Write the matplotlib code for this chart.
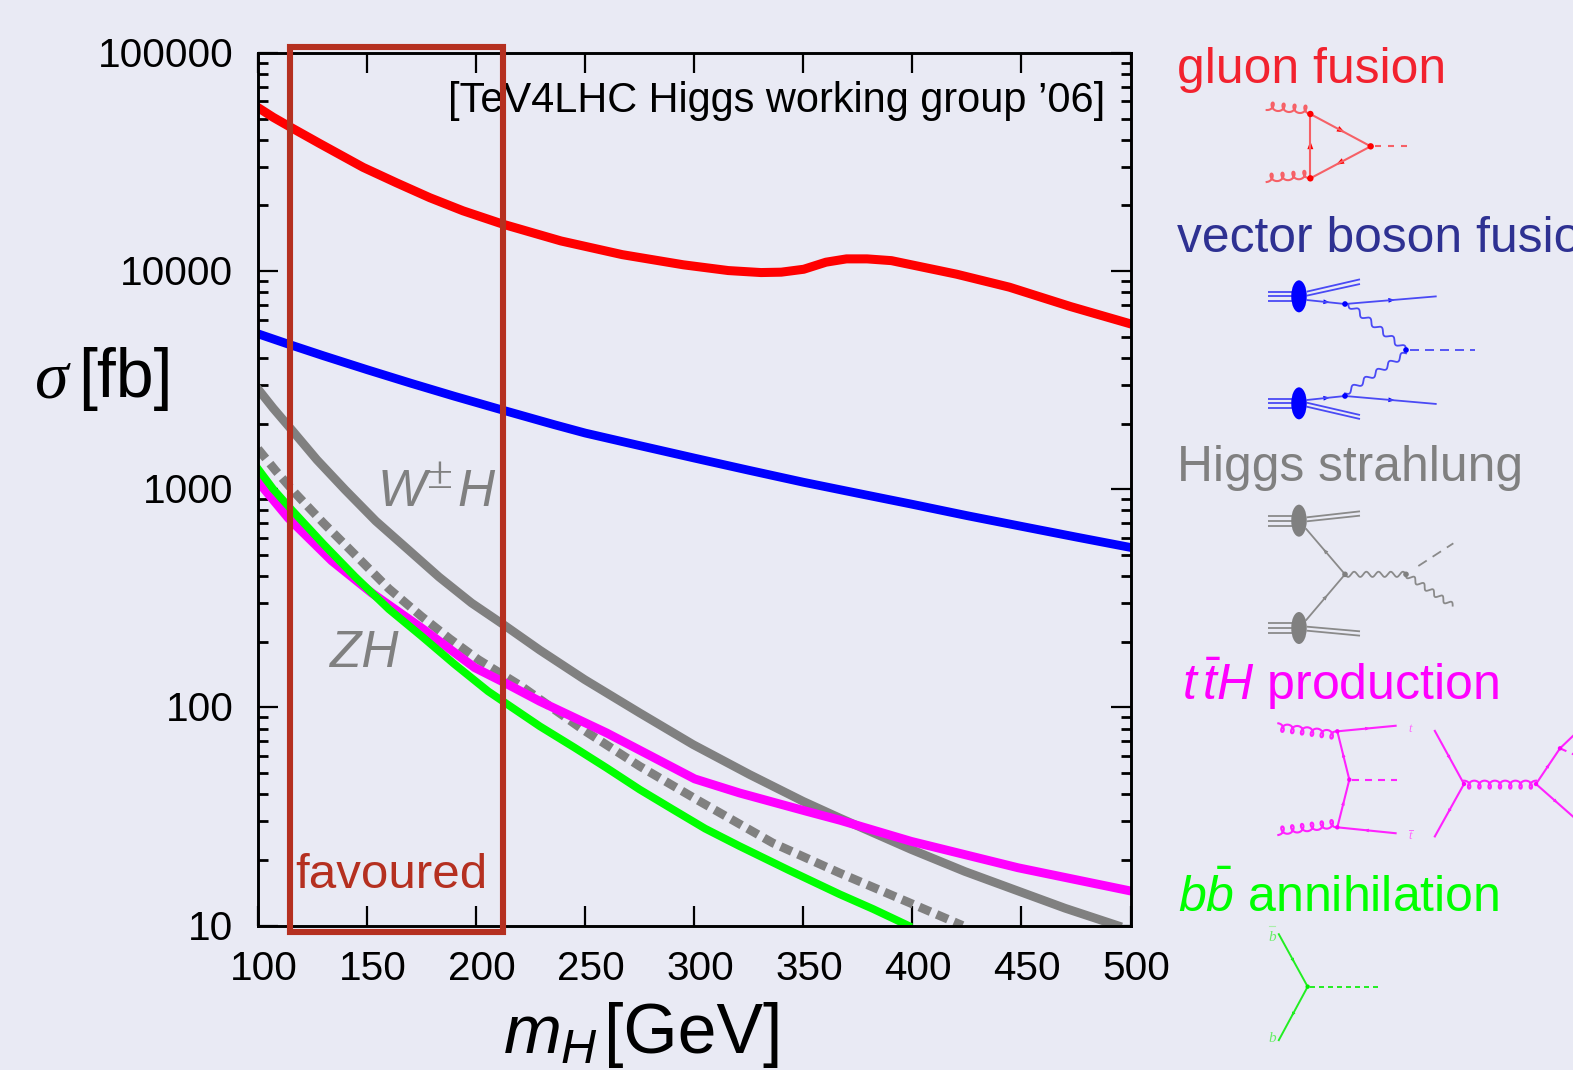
import numpy as np
import matplotlib
matplotlib.use("Agg")
import matplotlib.pyplot as plt
from matplotlib.patches import Ellipse, Polygon, Rectangle
from matplotlib.ticker import LogLocator, NullFormatter
from matplotlib.transforms import ScaledTranslation

plt.rcParams.update({
    'font.family': 'Liberation Sans',
    'mathtext.fontset': 'custom',
    'mathtext.rm': 'Liberation Sans',
    'mathtext.it': 'Liberation Sans:italic',
    'mathtext.bf': 'Liberation Sans:bold',
})

BG = '#E9EAF4'
W, H = 1573, 1070

gg_x = [100, 107, 115.4, 128.4, 148.2, 163.5, 178.8, 194, 212.4, 238.9, 267, 295, 315.6, 330.6, 339.9, 350.2, 360.4, 369.8, 379.2, 390.4, 420.3, 444.5, 472.5, 500]
gg_y = [56200, 50700, 45400, 38400, 29900, 25400, 21700, 18900, 16400, 13750, 11900, 10690, 10060, 9850, 9890, 10200, 10990, 11380, 11380, 11170, 9680, 8440, 6880, 5730]
vbf_x = [100, 115, 130, 150, 170, 190, 211.7, 236, 250, 275, 300, 325, 350, 375, 400, 425, 450, 475, 500]
vbf_y = [5160, 4587, 4092, 3533, 3064, 2670, 2313, 1975, 1810, 1585, 1390, 1222, 1077, 958, 853, 757, 676, 604, 541]
wh_x = [100, 107, 115.4, 127, 139.9, 154, 168.9, 183, 197.9, 213.2, 229.2, 249.8, 275, 299.5, 325.4, 349.9, 366.7, 399.5, 424, 448.4, 470, 494]
wh_y = [2880, 2350, 1874, 1365, 995, 715, 528, 396, 301, 237, 183, 134, 94.3, 67.5, 49.2, 37.1, 31.1, 22.3, 17.7, 14.4, 12, 10]
zh_x = [100, 108, 117, 130, 146, 160, 175, 188, 201, 220.8, 249, 275, 302.5, 336, 366.7, 398, 423]
zh_y = [1530, 1220, 961, 700, 484, 350, 261, 206, 165.6, 124.9, 79, 53.7, 37.1, 23.9, 17.4, 12.8, 10]
tth_x = [100, 113.9, 133.8, 152.1, 175, 199.4, 213.2, 229.2, 259.8, 300.2, 320.8, 351.4, 366.7, 399.5, 448.4, 500]
tth_y = [1085, 738, 470, 335, 231, 152, 129.5, 106.6, 76.4, 47, 40.5, 33.4, 30.4, 24.3, 18.4, 14.4]
bbh_x = [100, 107, 115.4, 130, 144.4, 160, 175, 190, 205.5, 229.2, 245, 259.8, 275, 290.3, 305, 320.8, 343, 366.7, 382, 398]
bbh_y = [1240, 1000, 805, 560, 398, 282, 212, 158, 118.5, 81.9, 65.5, 52.8, 42, 34, 27.8, 23.1, 18, 13.9, 11.9, 10]

x_ticks = [100, 150, 200, 250, 300, 350, 400, 450, 500]
y_ticks = [10, 100, 1000, 10000, 100000]
y_tick_labels = ['10', '100', '1000', '10000', '100000']

fig = plt.figure(figsize=(W / 100, H / 100), dpi=100, facecolor=BG)
ax = fig.add_axes([258 / W, 1 - 925.5 / H, (1130.5 - 258) / W, (925.5 - 53) / H], facecolor=BG)
ax.set_yscale('log')
ax.set_xlim(100, 500)
ax.set_ylim(10, 100000)

ax.plot(gg_x, gg_y, color='#FF0000', lw=6.5, solid_joinstyle='round')
ax.plot(vbf_x, vbf_y, color='#0000FF', lw=6.3, solid_joinstyle='round')
ax.plot(wh_x, wh_y, color='#808080', lw=6.3, solid_joinstyle='round')
ax.plot(zh_x, zh_y, color='#808080', lw=6.3, dashes=(1.4, 0.76))
ax.plot(tth_x, tth_y, color='#FF00FF', lw=6.4, solid_joinstyle='round')
ax.plot(bbh_x, bbh_y, color='#00FF00', lw=5.6, solid_joinstyle='round')

ax.set_xticks(x_ticks)
ax.set_yticks(y_ticks)
ax.set_yticklabels(y_tick_labels)
ax.tick_params(which='major', direction='in', top=True, right=True, length=14.5, width=1.6, labelsize=29.2)
ax.tick_params(which='minor', direction='in', top=False, right=True, length=7.2, width=2.0)
ax.tick_params(axis='x', which='minor', bottom=False, top=False)
ax.tick_params(axis='x', pad=18)
ax.tick_params(axis='y', pad=17.7)
ax.yaxis.set_minor_locator(LogLocator(base=10, subs=range(2, 10), numticks=10))
ax.yaxis.set_minor_formatter(NullFormatter())
off_x = ScaledTranslation(6 / 100, 0, fig.dpi_scale_trans)
off_y = ScaledTranslation(0, 1 / 100, fig.dpi_scale_trans)
for lab in ax.get_xticklabels():
    lab.set_transform(lab.get_transform() + off_x)
for lab in ax.get_yticklabels():
    lab.set_transform(lab.get_transform() + off_y)
for s in ax.spines.values():
    s.set_linewidth(2.1)

# overlay in pixel coordinates
ov = fig.add_axes([0, 0, 1, 1], facecolor='none')
ov.set_xlim(0, W)
ov.set_ylim(H, 0)
ov.axis('off')


def T(x, y, s, size, color='black', **kw):
    ov.text(x, y, s, fontsize=size, color=color, va='baseline', **kw)


T(448, 112, '[TeV4LHC Higgs working group ’06]', 29.9)
T(378, 506, 'W', 37, '#808080', style='italic')
T(427, 488, '±', 34, '#808080', family='Liberation Serif')
T(457, 506, 'H', 37, '#808080', style='italic')
T(330, 667, 'ZH', 37, '#808080', style='italic')
T(295, 888, 'favoured', 35.5, '#B53020')
ov.add_patch(Rectangle((290, 47), 213, 885, fill=False, ec='#B53020', lw=4.4, zorder=5))

T(503, 1053, r'$m_H$', 50)
T(604, 1053, '[GeV]', 50.2)
T(35, 397, 'σ', 49, family='Liberation Serif', style='italic')
T(78, 397, '[fb]', 49)

T(1177, 83, 'gluon fusion', 35.8, '#F2222E')
T(1177, 252, 'vector boson fusion', 35.8, '#2E3192')
T(1177, 481, 'Higgs strahlung', 35.8, '#808080')
T(1182, 700, r'$t\,\bar{t}H$ production', 36, '#FF00FF')
T(1178, 912, r'$b\bar{b}$ annihilation', 36, '#00FF00')


# Feynman diagram helpers: coordinates are 3x crops with given origin
class D:
    def __init__(self, ox, oy, col, dot=None, lw=1.2, dash=(8, 6)):
        self.ox, self.oy, self.col, self.dotc, self.lw = ox, oy, col, dot or col, lw
        self.dp = dash

    def p(self, q):
        return np.array([self.ox + q[0] / 3, self.oy + q[1] / 3])

    def line(self, a, b, arrow=False, size=4):
        a, b = self.p(a), self.p(b)
        ov.plot([a[0], b[0]], [a[1], b[1]], color=self.col, lw=self.lw, solid_capstyle='butt')
        if arrow:
            m = (a + b) / 2
            d = (b - a) / np.hypot(*(b - a))
            n = np.array([-d[1], d[0]])
            ov.add_patch(Polygon([m + d * size, m - d * size * .6 + n * size * .6, m - d * size * .6 - n * size * .6],
                                 color=self.dotc, lw=0))

    def dash(self, a, b):
        a, b = self.p(a), self.p(b)
        k = 0.72 / self.lw
        ov.plot([a[0], b[0]], [a[1], b[1]], color=self.col, lw=self.lw, dashes=(self.dp[0] * k, self.dp[1] * k))

    def dot(self, c, r=3.2):
        c = self.p(c)
        ov.add_patch(Ellipse(c, 2 * r, 2 * r, color=self.dotc, lw=0, zorder=3))

    def blob(self, c):
        c = self.p(c)
        ov.add_patch(Ellipse(c, 15.5, 32, color=self.dotc, lw=0, zorder=3))

    def wavy(self, a, b, n=6, amp=2.6):
        a, b = self.p(a), self.p(b)
        t = np.linspace(0, 1, 200)
        d = b - a
        nrm = np.array([-d[1], d[0]]) / np.hypot(*d)
        pts = a[None] + t[:, None] * d + (amp * np.sin(2 * np.pi * n * t))[:, None] * nrm
        ov.plot(pts[:, 0], pts[:, 1], color=self.col, lw=self.lw)

    def gluon(self, a, b, n=4, r=3.4, side=1):
        # a and b lie on the outer arcs; the loops hang toward `side`
        a, b = self.p(a), self.p(b)
        t = np.linspace(0, 1, 400)
        d = b - a
        L = np.hypot(*d)
        u = d / L
        nrm = side * np.array([-u[1], u[0]])
        ph = 2 * np.pi * n * t
        along = L * t + 0.85 * r * np.sin(ph)
        perp = r * (1 - np.cos(ph))
        pts = a[None] + along[:, None] * u + perp[:, None] * nrm
        ov.plot(pts[:, 0], pts[:, 1], color=self.col, lw=self.lw)

    def beams(self, ys, x0=325, x1=400):
        for y in ys:
            self.line((x0, y), (x1, y))


# gluon fusion
d = D(1160, 30, '#F66066', '#FF0000', lw=1.5, dash=(6, 7))
d.gluon((320, 240), (451, 252), n=4, r=4, side=-1)
d.gluon((320, 456), (451, 445), n=4, r=4, side=-1)
d.line((451, 445), (451, 252), arrow=True, size=5)
d.line((451, 252), (632, 349), arrow=True, size=5)
d.line((632, 349), (451, 445), arrow=True, size=5)
d.dash((645, 349), (750, 349))
for c in [(451, 252), (451, 445), (632, 349)]:
    d.dot(c)

# vector boson fusion
d = D(1160, 30, '#4A4AF5', '#0000FF', lw=1.3, dash=(9, 6))
d.blob((417, 799))
d.blob((417, 1120))
d.beams([785, 798, 813])
d.beams([1107, 1120, 1135])
d.line((440, 785), (600, 748))
d.line((440, 797), (600, 762))
d.line((440, 1118), (600, 1155))
d.line((440, 1130), (600, 1167))
d.line((440, 810), (555, 822), arrow=True)
d.line((555, 822), (830, 799), arrow=True)
d.line((440, 1110), (555, 1098), arrow=True)
d.line((555, 1098), (830, 1122), arrow=True)
d.wavy((565, 822), (738, 960), n=5)
d.wavy((555, 1090), (738, 970), n=5)
d.dash((750, 960), (945, 960))
for c in [(555, 822), (555, 1098), (738, 960)]:
    d.dot(c, 2.8)

# Higgs strahlung
d = D(1160, 430, '#8A8A8A', '#808080', lw=1.3, dash=(10, 7))
d.blob((417, 272))
d.blob((417, 594))
d.beams([258, 272, 287])
d.beams([580, 594, 608])
d.line((440, 262), (600, 244))
d.line((440, 274), (600, 257))
d.line((440, 590), (600, 604))
d.line((440, 602), (600, 617))
d.line((555, 433), (437, 295), arrow=True, size=3.5)
d.line((437, 572), (555, 433), arrow=True, size=3.5)
d.wavy((555, 433), (738, 433), n=5)
d.wavy((738, 433), (878, 527), n=5)
d.dash((775, 408), (880, 340))
d.dot((555, 433), 2.8)
d.dot((738, 433), 2.8)

# ttH
d = D(1160, 430, '#FF22FF', '#FF00FF', lw=1.5, dash=(7, 6))
d.gluon((355, 880), (532, 904), n=6, r=4, side=1)
d.gluon((355, 1215), (532, 1192), n=6, r=4, side=-1)
d.line((532, 904), (710, 887), arrow=True, size=3)
d.line((710, 1210), (532, 1192), arrow=True, size=3)
d.line((568, 1049), (532, 904), arrow=True, size=3)
d.line((532, 1192), (568, 1049), arrow=True, size=3)
d.dash((575, 1049), (710, 1049))
d.line((823, 900), (912, 1062), arrow=True, size=3)
d.line((912, 1062), (823, 1222), arrow=True, size=3)
d.gluon((912, 1052), (1128, 1052), n=7, r=4, side=1)
d.line((1128, 1062), (1200, 955), arrow=True, size=3)
d.line((1200, 955), (1245, 912))
d.line((1128, 1062), (1245, 1165), arrow=True, size=3)
d.dash((1200, 955), (1245, 975))
for c in [(532, 904), (532, 1192), (568, 1049), (912, 1062), (1128, 1062), (1200, 955)]:
    d.dot(c, 2.2)
ov.text(1160 + 752 / 3, 430 + 905 / 3, 't', fontsize=9, color='#FF66FF', style='italic', family='Liberation Serif', ha='center')
ov.text(1160 + 752 / 3, 430 + 1228 / 3, 't', fontsize=9, color='#FF66FF', style='italic', family='Liberation Serif', ha='center')
ov.plot([1160 + 746 / 3, 1160 + 758 / 3], [430 + 1200 / 3] * 2, color='#FF66FF', lw=0.7)

# bb annihilation
d = D(1160, 850, '#22EE22', '#00EE00', lw=1.4, dash=(5, 4))
d.line((355, 250), (443, 410), arrow=True, size=3)
d.line((443, 410), (355, 573), arrow=True, size=3)
d.dash((450, 410), (660, 410))
d.dot((443, 410), 2.2)
ov.text(1160 + 337 / 3, 850 + 272 / 3, 'b', fontsize=11, color='#66EE66', style='italic', family='Liberation Serif', ha='center')
ov.text(1160 + 337 / 3, 850 + 577 / 3, 'b', fontsize=11, color='#66EE66', style='italic', family='Liberation Serif', ha='center')
ov.plot([1160 + 328 / 3, 1160 + 346 / 3], [850 + 228 / 3] * 2, color='#AAEEAA', lw=0.8)

fig.savefig('out.png', dpi=100, facecolor=BG)
